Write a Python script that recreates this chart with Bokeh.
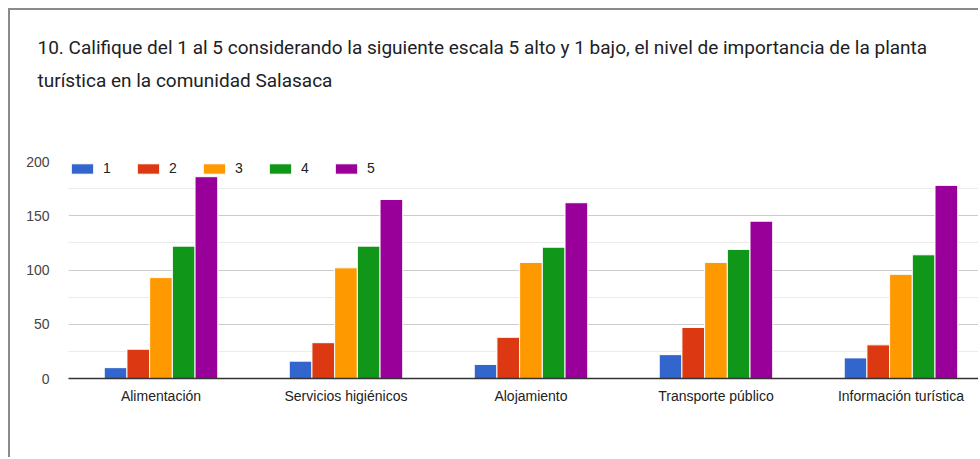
from bokeh.plotting import figure
from bokeh.models import ColumnDataSource, Range1d, FixedTicker, Legend, LegendItem, Title
from bokeh.transform import dodge
from bokeh.embed import file_html
from bokeh.resources import INLINE

title_lines = [
    "10. Califique del 1 al 5 considerando la siguiente escala 5 alto y 1 bajo, el nivel de importancia de la planta",
    "turística en la comunidad Salasaca",
]
categories = ["Alimentación", "Servicios higiénicos", "Alojamiento", "Transporte público", "Información turística"]
series_names = ["1", "2", "3", "4", "5"]
s1 = [10, 16, 13, 22, 19]
s2 = [27, 33, 38, 47, 31]
s3 = [93, 102, 107, 107, 96]
s4 = [122, 122, 121, 119, 114]
s5 = [186, 165, 162, 145, 178]
series_values = [s1, s2, s3, s4, s5]
colors = ["#3366cc", "#dc3912", "#ff9900", "#109618", "#990099"]
y_ticks = [0, 50, 100, 150, 200]
y_minor = [25, 75, 125, 175]

src = ColumnDataSource(dict(x=list(range(len(categories))),
                            **{f"s{i+1}": v for i, v in enumerate(series_values)}))

p = figure(width=970, height=449, output_backend="svg", toolbar_location=None, title=None,
           x_range=Range1d(-0.5, 4.43), y_range=Range1d(0, 200),
           min_border_left=58, min_border_right=0, min_border_top=151, min_border_bottom=81)
p.margin = (8, 0, 0, 8)
p.styles = {"border-left": "2px solid #8a8a8a", "border-top": "2px solid #8a8a8a"}
p.outline_line_color = None

bw = 0.1227
items = []
for i, name in enumerate(series_names):
    r = p.vbar(x=dodge("x", (i - 2) * bw), top=f"s{i+1}", width=bw, bottom=0, source=src,
               fill_color=colors[i], line_color="white", line_width=1)
    items.append(LegendItem(label=name, renderers=[r]))

legend = Legend(items=items, orientation="horizontal", location=(0, 202),
                glyph_width=28, glyph_height=13, label_height=13, label_width=20,
                label_standoff=7, spacing=11, padding=0, margin=0,
                border_line_color=None, background_fill_alpha=0,
                label_text_font="Liberation Sans", label_text_font_size="14px",
                label_text_color="#222222")
p.add_layout(legend, "center")

p.xgrid.visible = False
p.ygrid.grid_line_color = "#cccccc"
p.ygrid.minor_grid_line_color = "#ebebeb"

p.yaxis.ticker = FixedTicker(ticks=y_ticks, minor_ticks=y_minor)
p.yaxis.axis_line_color = None
p.yaxis.major_tick_line_color = None
p.yaxis.minor_tick_line_color = None
p.yaxis.major_tick_out = 0
p.yaxis.major_label_standoff = 15
p.yaxis.major_label_text_font = "Liberation Sans"
p.yaxis.major_label_text_font_size = "14px"
p.yaxis.major_label_text_color = "#444444"

p.xaxis.ticker = FixedTicker(ticks=list(range(len(categories))))
p.xaxis.major_label_overrides = {i: c for i, c in enumerate(categories)}
p.xaxis.axis_line_color = "#333333"
p.xaxis.axis_line_width = 1.5
p.xaxis.major_tick_line_color = None
p.xaxis.minor_tick_line_color = None
p.xaxis.major_tick_out = 0
p.xaxis.major_label_standoff = 9
p.xaxis.major_label_text_font = "Liberation Sans"
p.xaxis.major_label_text_font_size = "14px"
p.xaxis.major_label_text_color = "#222222"

# spacer between the title block and the plot area (closest to the frame)
p.add_layout(Title(text=" ", text_font_size="10px", standoff=53), "above")
# lower line first, then the upper line
for line in reversed(title_lines):
    p.add_layout(Title(text=line, align="left", offset=-31, standoff=8,
                       text_font="Roboto", text_font_size="19px", text_font_style="normal",
                       text_color="#202124"), "above")

open("out.html", "w").write(file_html(p, INLINE))
